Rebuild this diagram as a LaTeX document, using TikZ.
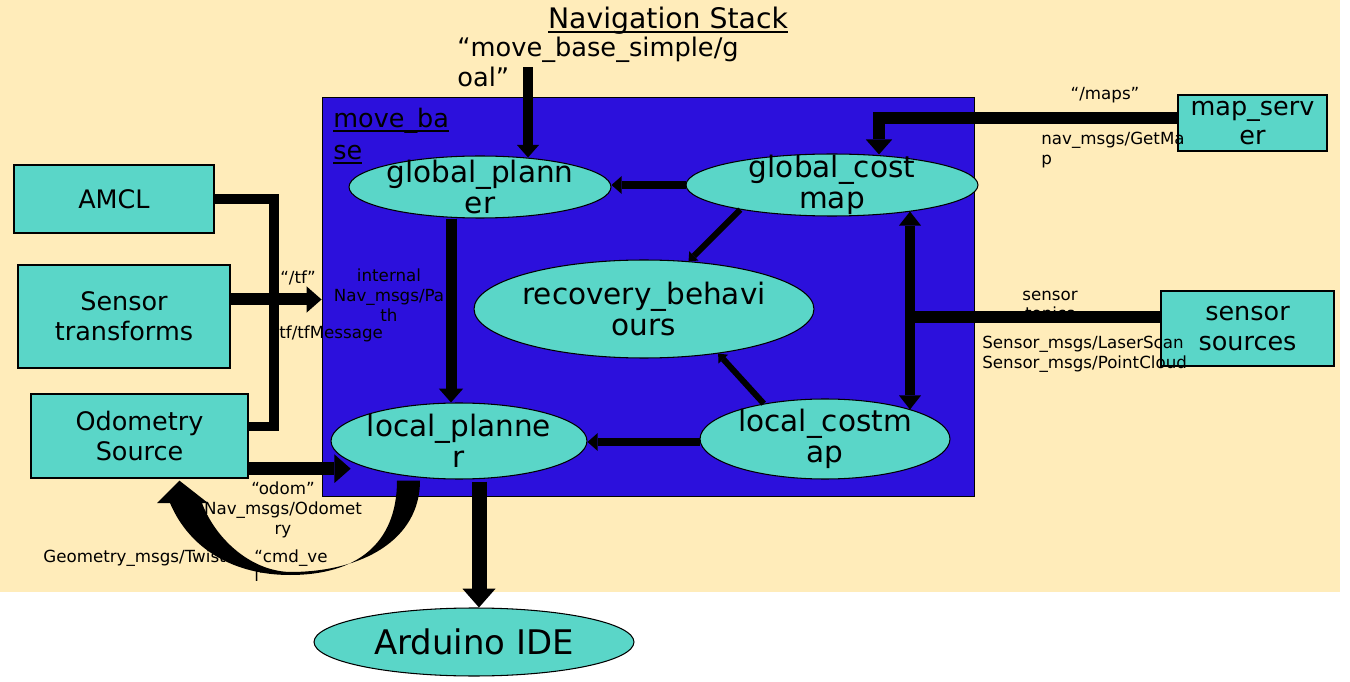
\documentclass[tikz,border=0pt]{standalone}
\usepackage{fontspec}
\setmainfont{DejaVu Sans}
\usetikzlibrary{arrows.meta,positioning,calc,shapes.geometric}
\definecolor{stackcream}{HTML}{FFECBA}
\definecolor{basebg}{HTML}{2C10DC}
\definecolor{nodeteal}{HTML}{5AD6C8}
\tikzset{
  unit/.style={rectangle, draw=black, line width=0.8pt, fill=nodeteal,
               align=center, inner sep=0pt, font=\fontsize{14.5}{17}\selectfont},
  proc/.style={ellipse, draw=black, line width=0.6pt, fill=nodeteal,
               align=center, inner xsep=-24pt, inner ysep=-10pt,
               font=\fontsize{16.8}{17.5}\selectfont},
  topic/.style={inner sep=0pt, font=\fontsize{9.5}{11.3}\selectfont},
  pipe/.style={line width=#1, draw=black,
               -{Triangle[length=0pt 1.25, width=0pt 2.2, line width=0pt 0]}},
  twoway/.style={line width=#1, draw=black,
               {Triangle[length=0pt 1.4, width=0pt 2.2, line width=0pt 0]}-{Triangle[length=0pt 1.4, width=0pt 2.2, line width=0pt 0]}},
  bar/.style={line width=#1, draw=black},
}
\newcommand{\ulined}[1]{\setbox0\hbox{#1}\rlap{\rule[-2.5pt]{\wd0}{1.1pt}}\box0}

\begin{document}
\begin{tikzpicture}[x=0.02cm, y=-0.02cm]
\fill[white] (0,0) rectangle (1350,682);
\useasboundingbox (0,0) rectangle (1350,682);
\fill[stackcream] (0,0) rectangle (1340,592);

% ------------------------- move_base ------------------------------------
\node[draw=black, line width=0.6pt, fill=basebg, inner sep=0pt,
      minimum width=13.06cm, minimum height=8cm] at (648.5,297) (movebase) {};
\node[anchor=north west, inner sep=0pt, align=left,
      font=\fontsize{14.5}{18}\selectfont] at (333,108) (mblabel)
   {\ulined{move\_ba}\\\ulined{se}};
\node[anchor=base, inner sep=0pt, font=\fontsize{16.1}{19}\selectfont] at (668,29) (title)
   {\ulined{Navigation Stack}};
\node[anchor=north west, inner sep=0pt, align=left,
      font=\fontsize{14.6}{17}\selectfont] at (457,37) (goal)
   {“move\_base\_simple/g\\oal”};

\node[proc, minimum width=5.24cm, minimum height=1.24cm] at (480,187) (gplan) {global\_plann\\er};
\node[proc, minimum width=5.84cm, minimum height=1.24cm] at (832,185) (gcost) {global\_cost\\map};
\node[proc, minimum width=6.8cm, minimum height=1.96cm] at (644,309) (recov) {recovery\_behavi\\ours};
\node[proc, minimum width=5.12cm, minimum height=1.52cm] at (459,441) (lplan) {local\_planne\\r};
\node[proc, minimum width=5cm, minimum height=1.6cm] at (825,439) (lcost) {local\_costm\\ap};
\node[proc, minimum width=6.4cm, minimum height=1.36cm,
      font=\fontsize{19.3}{22}\selectfont] at (474,642) (arduino) {Arduino IDE};

% ------------------------- outside sources ------------------------------
\node[unit, minimum width=4cm, minimum height=1.36cm] at (114,199) (amcl) {AMCL};
\node[unit, minimum width=4.24cm, minimum height=2.06cm] at (124,316.5) (sensortf) {Sensor\\transforms};
\node[unit, minimum width=4.34cm, minimum height=1.68cm] at (139.5,436) (odom) {Odometry\\Source};
\node[unit, minimum width=2.98cm, minimum height=1.12cm] at (1252.5,123) (mapsrv) {map\_serv\\er};
\node[unit, minimum width=3.46cm, minimum height=1.5cm] at (1247.5,328.5) (sensrc) {sensor\\sources};

% ------------------------- topic labels ---------------------------------
\node[topic] at (298,278) (tfname) {“/tf”};
\node[topic, anchor=west] at (279,334) (tfmsg) {tf/tfMessage};
\node[topic, align=center] at (389,295) (pathmsg) {internal\\Nav\_msgs/Pa\\th};
\node[topic, align=center] at (283,510) (odommsg) {“odom”\\Nav\_msgs/Odomet\\ry};
\node[topic, anchor=west] at (43,558) (twistmsg) {Geometry\_msgs/Twist};
\node[topic, align=left, anchor=north west] at (254,549) (cmdvel) {“cmd\_ve\\l”};
\node[topic] at (1105,95) (mapsname) {“/maps”};
\node[topic, align=left, anchor=north west] at (1041,132) (mapmsg) {nav\_msgs/GetMa\\p};
\node[topic, align=center] at (1050,307) (sensname) {sensor\\topics};
\node[topic, align=left, anchor=north west] at (982,336) (sensmsg)
   {Sensor\_msgs/LaserScan\\Sensor\_msgs/PointCloud};

% ------------------------- connectors -----------------------------------
\draw[bar=0.2cm] (amcl.east) -| ($(odom.east)+(25,-9.5)$) -- ($(odom.east)+(0,-9.5)$);
\draw[pipe=0.24cm] ($(sensortf.east)+(0,-17)$) -- ($(sensortf.east -| movebase.west)+(0,-17)$);
\draw[pipe=0.26cm] ($(odom.south east)+(0,-10)$) -- ++(102,0);
\draw[pipe=0.2cm] ($(gplan.north)+(48,-88)$) -- ($(gplan.north)+(48,2)$);

\draw[pipe=0.22cm] ($(gplan.south)+(-29,0)$) -- ($(lplan.north)+(-8,0)$);
\draw[pipe=0.16cm] (gcost.west) -- (gcost.west -| gplan.east);
\draw[pipe=0.16cm] ($(lcost.west)+(0,3)$) -- ($(lcost.west -| lplan.east)+(0,3)$);
\draw[pipe=0.12cm] (gcost.195) -- (recov.47);
\draw[pipe=0.12cm] (lcost.150) -- (recov.-31);
\draw[twoway=0.2cm] ($(gcost.south)+(78,-5)$) -- ($(lcost.north)+(85,11)$);

\coordinate (tee) at (910,317);
\draw[bar=0.24cm] ($(sensrc.west)+(0,-11.5)$) -- (tee);
\draw[pipe=0.24cm] ($(mapsrv.west)+(0,-5)$) -| ($(gcost.north)+(47,1)$);

\draw[pipe=0.3cm] ($(lplan.south)+(20,2)$) -- ($(arduino.north)+(5,0)$);

% cmd_vel back to the odometry source
\fill[black] ($(lplan.south)+(-62,1)$) .. controls (397,545) and (355,575) .. (290,575)
   .. controls (235,575) and (190,550) .. (170,503) -- (157,503)
   -- ($(odom.south)+(40,2)$) -- (208,503) -- (202,503)
   .. controls (215,538) and (250,571) .. (290,572)
   .. controls (362,572) and (420,540) .. ($(lplan.south)+(-39,1)$) -- cycle;
\end{tikzpicture}
\end{document}
